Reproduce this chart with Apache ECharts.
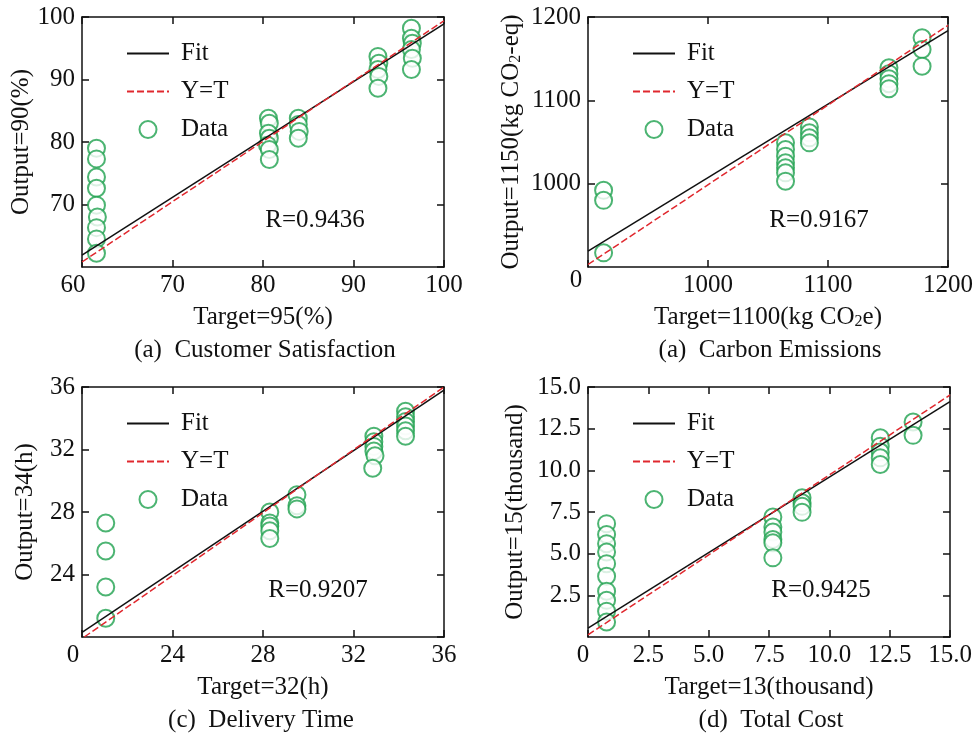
<!DOCTYPE html>
<html>
<head>
<meta charset="utf-8">
<script src="https://cdn.jsdelivr.net/npm/echarts@6/dist/echarts.min.js"></script>
<style>
html, body { margin: 0; padding: 0; background: #fff; }
#main { width: 976px; height: 736px; }
</style>
</head>
<body>
<div id="main"></div>
<script>
// (a) Customer Satisfaction
var satTarget = [61.6, 61.6, 61.6, 61.6, 61.6, 61.7, 61.6, 61.6, 61.6,
                 80.6, 80.7, 80.6, 80.7, 80.5, 80.7, 80.7,
                 83.9, 83.9, 84.0, 83.9,
                 92.7, 92.8, 92.7, 92.8, 92.7,
                 96.4, 96.4, 96.5, 96.4, 96.5, 96.4];
var satOutput = [79.0, 77.3, 74.4, 72.6, 69.9, 68.0, 66.3, 64.5, 62.2,
                 83.8, 83.0, 81.4, 80.6, 79.5, 78.8, 77.2,
                 83.8, 82.8, 81.7, 80.6,
                 93.7, 92.6, 91.6, 90.5, 88.6,
                 98.2, 96.6, 95.8, 94.8, 93.4, 91.6];
var satFit = [[60, 61.9], [100, 98.9]];
var satRef = [[60, 60.8], [100, 99.4]];

// (a) Carbon Emissions
var carbonTarget = [913, 913, 913,
                    1064.6, 1064.6, 1064.6, 1064.6, 1064.6, 1064.6, 1064.6,
                    1084.5, 1084.5, 1084.5, 1084.5,
                    1150.8, 1150.8, 1150.8, 1150.8, 1150.8,
                    1178.4, 1178.4, 1178.4];
var carbonOutput = [992, 980, 917,
                    1049, 1041, 1033, 1025, 1019, 1013, 1003,
                    1068, 1061, 1055, 1049,
                    1139, 1132, 1126, 1120, 1114,
                    1175, 1161, 1141];
var carbonFit = [[900, 919], [1200, 1183.6]];
var carbonRef = [[900, 903], [1200, 1190]];

// (c) Delivery Time
var timeTarget = [21.05, 21.05, 21.05, 21.05,
                  28.3, 28.3, 28.3, 28.3, 28.3,
                  29.5, 29.5, 29.5,
                  32.9, 32.9, 32.9, 32.9, 32.95, 32.85,
                  34.3, 34.3, 34.3, 34.3, 34.3, 34.3];
var timeOutput = [27.3, 25.5, 23.2, 21.2,
                  28.0, 27.3, 27.1, 26.8, 26.3,
                  29.1, 28.4, 28.2,
                  32.85, 32.5, 32.2, 31.9, 31.6, 30.8,
                  34.45, 34.1, 33.8, 33.5, 33.2, 32.85];
var timeFit = [[20, 20.3], [36, 35.8]];
var timeRef = [[20.1, 20], [36, 36]];

// (d) Total Cost
var costTarget = [0.77, 0.77, 0.77, 0.77, 0.77, 0.77, 0.77, 0.77, 0.77, 0.77,
                  7.66, 7.66, 7.66, 7.66, 7.66, 7.66,
                  8.87, 8.87, 8.87, 8.87,
                  12.11, 12.11, 12.11, 12.11, 12.11,
                  13.47, 13.47];
var costOutput = [6.8, 6.15, 5.6, 5.1, 4.4, 3.65, 2.75, 2.2, 1.55, 0.9,
                  7.2, 6.6, 6.3, 5.85, 5.65, 4.75,
                  8.35, 8.05, 7.84, 7.48,
                  11.95, 11.45, 11.1, 10.75, 10.35,
                  12.9, 12.1];
var costFit = [[0, 0.53], [15, 14.12]];
var costRef = [[0, 0.13], [15, 14.52]];

var FONT = "'Liberation Serif', 'Times New Roman', serif";
var FS = 25;
var INK = '#111';
var GREEN = '#1fa14f';
var RED = '#e0282e';

function zip(xs, ys) {
    return xs.map(function (x, i) { return [x, ys[i]]; });
}

// one entry per panel
var panels = [
    { left: 82, top: 17, x: [60, 100, 10], y: [60, 100, 10], dec: 0,
      minText: '60', minPad: 18, minLh: 25,
      xName: 'Target=95(%)', yName: 'Output=90(%)', yGap: 44,
      pts: zip(satTarget, satOutput), fit: satFit, ref: satRef,
      r: 'R=0.9436', caption: '(a)  Customer Satisfaction', capX: 265, rX: 315 },
    { left: 588, top: 17, x: [900, 1200, 100], y: [900, 1200, 100], dec: 0,
      minText: '0', minPad: 24, minLh: 14,
      xName: 'Target=1100(kg CO{s|2}e)', yName: 'Output=1150(kg CO{s|2}-eq)', yGap: 64,
      pts: zip(carbonTarget, carbonOutput), fit: carbonFit, ref: carbonRef,
      r: 'R=0.9167', caption: '(a)  Carbon Emissions', capX: 770, rX: 819 },
    { left: 82, top: 387, x: [20, 36, 4], y: [20, 36, 4], dec: 0,
      minText: '0', minPad: 18, minLh: 25,
      xName: 'Target=32(h)', yName: 'Output=34(h)', yGap: 44,
      pts: zip(timeTarget, timeOutput), fit: timeFit, ref: timeRef,
      r: 'R=0.9207', caption: '(c)  Delivery Time', capX: 261, rX: 318 },
    { left: 588, top: 387, x: [0, 15, 2.5], y: [0, 15, 2.5], dec: 1,
      minText: '0', minPad: 10, minLh: 25,
      xName: 'Target=13(thousand)', yName: 'Output=15(thousand)', yGap: 60,
      pts: zip(costTarget, costOutput), fit: costFit, ref: costRef,
      r: 'R=0.9425', caption: '(d)  Total Cost', capX: 771, rX: 821 }
];

var W = 362, H = 250;
var textBase = { fontFamily: FONT, fontSize: FS, color: INK };
var subRich = { s: { fontFamily: FONT, fontSize: 16, color: INK, verticalAlign: 'bottom', lineHeight: 14 } };

var grids = [], xAxes = [], yAxes = [], series = [], legends = [], graphics = [];

panels.forEach(function (p, i) {
    grids.push({ left: p.left, top: p.top, width: W, height: H, containLabel: false });

    var line = { show: true, onZero: false, lineStyle: { color: INK, width: 1.5 } };
    var tick = { show: true, inside: true, length: 7, lineStyle: { color: INK, width: 1.5 } };

    // bottom axis with labels
    xAxes.push({
        type: 'value', gridIndex: i, position: 'bottom',
        min: p.x[0], max: p.x[1], interval: p.x[2],
        axisLine: line, axisTick: tick, splitLine: { show: false },
        axisLabel: {
            fontFamily: FONT, fontSize: FS, color: INK, margin: 6,
            showMinLabel: true, showMaxLabel: true,
            formatter: function (v) {
                if (v === p.x[0]) return '{m|' + p.minText + '}';
                return v.toFixed(p.dec);
            },
            rich: { m: { fontFamily: FONT, fontSize: FS, color: INK,
                         padding: [0, p.minPad, 0, 0], lineHeight: p.minLh } }
        },
        name: p.xName, nameLocation: 'middle', nameGap: 38,
        nameTextStyle: Object.assign({ rich: subRich }, textBase)
    });
    // top axis, ticks only
    xAxes.push({
        type: 'value', gridIndex: i, position: 'top',
        min: p.x[0], max: p.x[1], interval: p.x[2],
        axisLine: line, axisTick: tick, axisLabel: { show: false }, splitLine: { show: false }
    });
    // left axis
    yAxes.push({
        type: 'value', gridIndex: i, position: 'left',
        min: p.y[0], max: p.y[1], interval: p.y[2],
        axisLine: line, axisTick: tick, splitLine: { show: false },
        axisLabel: {
            fontFamily: FONT, fontSize: FS, color: INK, margin: 7,
            showMinLabel: false,
            formatter: function (v) { return v.toFixed(p.dec); }
        },
        name: p.yName, nameLocation: 'middle', nameGap: p.yGap, nameRotate: 90,
        nameTextStyle: Object.assign({ rich: subRich }, textBase)
    });
    // right axis, ticks only
    yAxes.push({
        type: 'value', gridIndex: i, position: 'right',
        min: p.y[0], max: p.y[1], interval: p.y[2],
        axisLine: line, axisTick: tick, axisLabel: { show: false }, splitLine: { show: false }
    });

    series.push({
        name: 'Data', type: 'scatter', xAxisIndex: 2 * i, yAxisIndex: 2 * i,
        symbol: 'emptyCircle', symbolSize: 17, data: p.pts,
        itemStyle: { color: GREEN, borderWidth: 1.5 }
    });
    series.push({
        name: 'Fit', type: 'line', xAxisIndex: 2 * i, yAxisIndex: 2 * i,
        symbol: 'none', data: p.fit, lineStyle: { color: INK, width: 1.5 },
        itemStyle: { color: INK }
    });
    series.push({
        name: 'Y=T', type: 'line', xAxisIndex: 2 * i, yAxisIndex: 2 * i,
        symbol: 'none', data: p.ref, lineStyle: { color: RED, width: 1.5, type: [7, 3] },
        itemStyle: { color: RED }
    });

    // legend: hide the marker dot on the two line entries
    legends.push({
        left: p.left + 44, top: p.top + 24, padding: 0, orient: 'vertical',
        itemWidth: 42, itemHeight: 17, itemGap: 13,
        data: [
            { name: 'Fit', itemStyle: { opacity: 0 } },
            { name: 'Y=T', itemStyle: { opacity: 0 } },
            'Data'
        ],
        selectedMode: false,
        textStyle: { fontFamily: FONT, fontSize: FS, color: INK, lineHeight: 25, padding: [0, 0, 0, 7] }
    });

    graphics.push({
        type: 'text', x: p.rX, y: p.top + 203,
        style: { text: p.r, font: FS + 'px ' + FONT, fill: INK,
                 align: 'center', verticalAlign: 'middle', textAlign: 'center', textVerticalAlign: 'middle' }
    });
    graphics.push({
        type: 'text', x: p.capX, y: p.top + 333,
        style: { text: p.caption, font: FS + 'px ' + FONT, fill: INK,
                 align: 'center', verticalAlign: 'middle', textAlign: 'center', textVerticalAlign: 'middle' }
    });
});

var chart = echarts.init(document.getElementById('main'), null, { renderer: 'canvas' });
chart.setOption({
    backgroundColor: '#fff',
    animation: false,
    grid: grids,
    xAxis: xAxes,
    yAxis: yAxes,
    legend: legends,
    series: series,
    graphic: graphics
});
</script>
</body>
</html>
